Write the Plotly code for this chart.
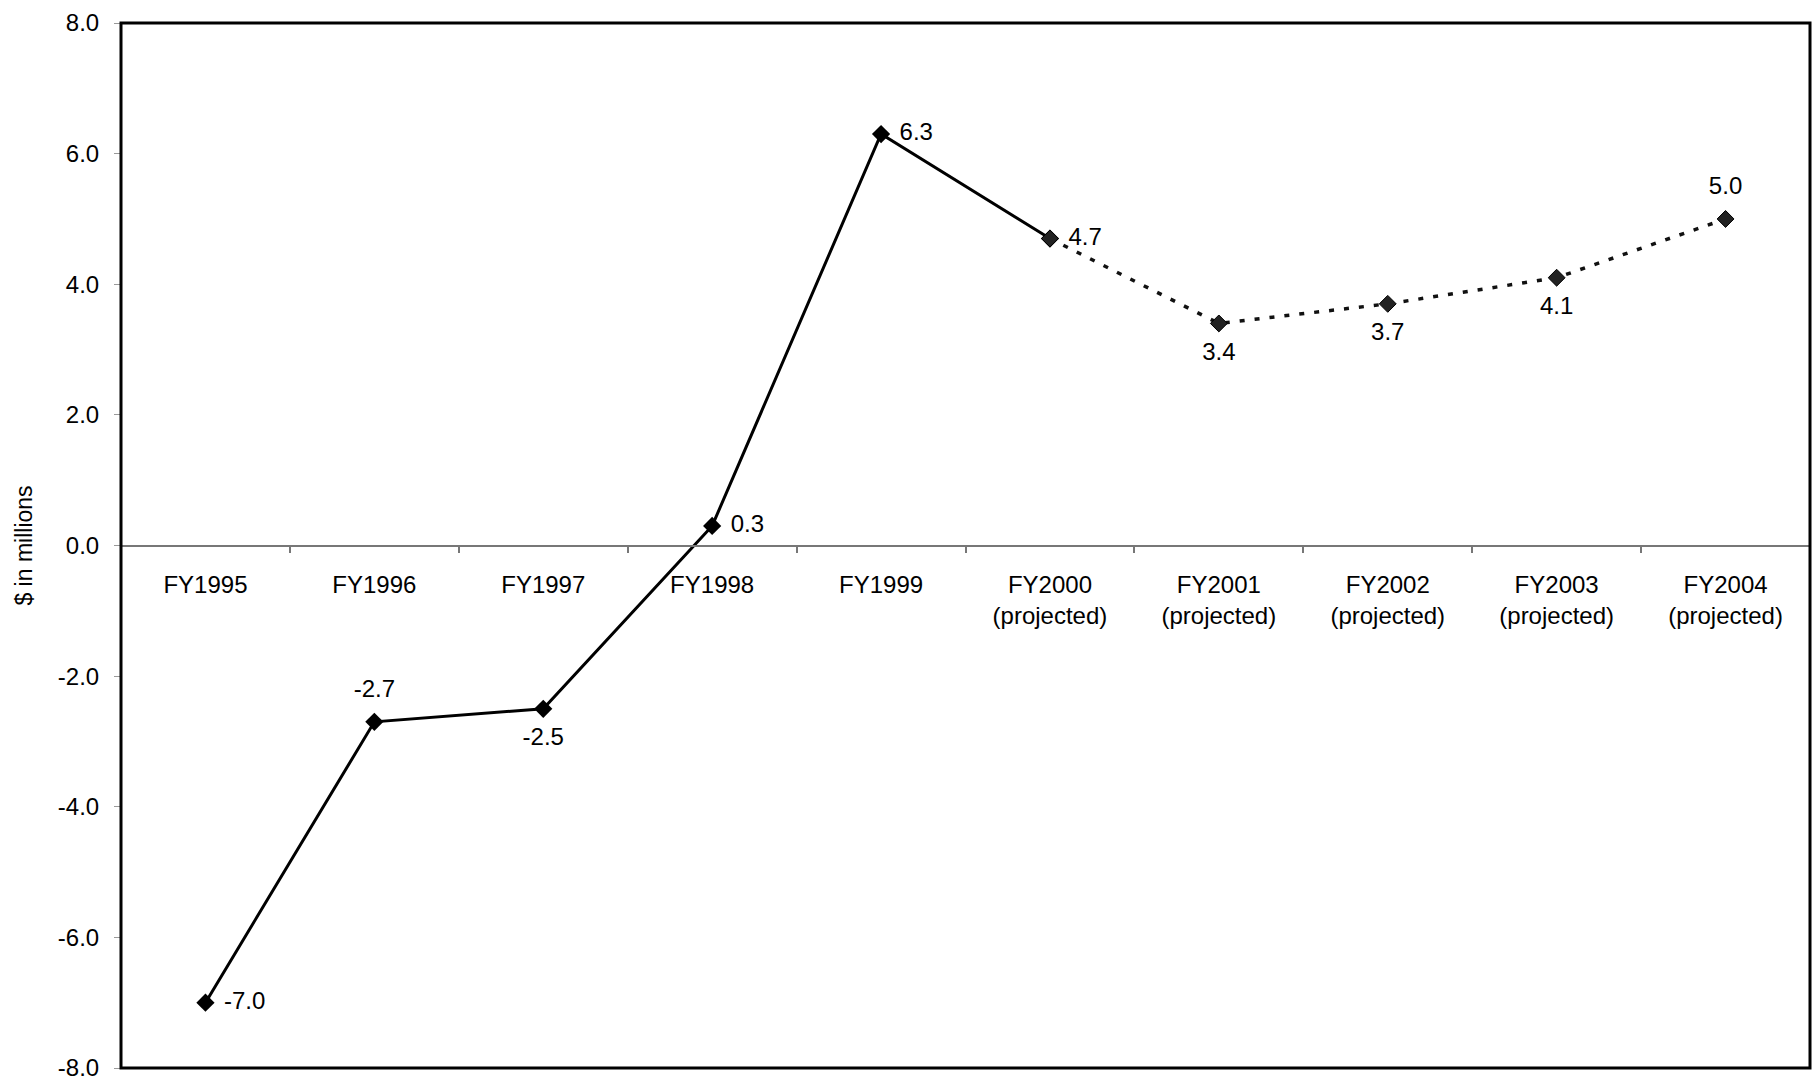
import plotly.graph_objects as go

categories = ["FY1995", "FY1996", "FY1997", "FY1998", "FY1999",
              "FY2000<br>(projected)", "FY2001<br>(projected)", "FY2002<br>(projected)",
              "FY2003<br>(projected)", "FY2004<br>(projected)"]
values = [-7.0, -2.7, -2.5, 0.3, 6.3, 4.7, 3.4, 3.7, 4.1, 5.0]
label_pos = ["middle right", "top center", "bottom center", "middle right", "middle right",
             "middle right", "bottom center", "bottom center", "bottom center", "top center"]
y_ticks = [-8, -6, -4, -2, 0, 2, 4, 6, 8]
y_ticktext = [f"{v:.1f}" for v in y_ticks]

actual_n = 6  # FY1995..FY2000 drawn solid
FONT = "Liberation Sans, Arial, sans-serif"

fig = go.Figure()
fig.add_trace(go.Scatter(
    x=categories[:actual_n], y=values[:actual_n],
    mode="lines+markers",
    line=dict(color="black", width=3),
    marker=dict(symbol="diamond", size=14, color="black"),
    showlegend=False,
))
proj_x = categories[actual_n - 1:]
proj_y = values[actual_n - 1:]
fig.add_trace(go.Scatter(
    x=proj_x, y=proj_y,
    mode="lines+markers",
    line=dict(color="#111111", width=3.5, dash="5px,10px"),
    marker=dict(symbol="diamond", size=13, color="#222222", line=dict(color="black", width=1)),
    showlegend=False,
))
# data labels (invisible larger markers give the labels extra offset)
fig.add_trace(go.Scatter(
    x=categories, y=values,
    mode="markers+text",
    marker=dict(size=28, color="rgba(0,0,0,0)"),
    text=[f"{v:.1f}" for v in values],
    textposition=label_pos,
    textfont=dict(family=FONT, size=24, color="black"),
    cliponaxis=False, showlegend=False, hoverinfo="skip",
))

fig.update_layout(
    width=1820, height=1085,
    margin=dict(l=113, r=18, t=15, b=25),
    paper_bgcolor="white", plot_bgcolor="white",
    font=dict(family=FONT, size=24, color="black"),
    xaxis=dict(
        type="category", categoryorder="array", categoryarray=categories,
        range=[-0.5, len(categories) - 0.5],
        anchor="free", position=0.5, automargin=False,
        showline=True, linecolor="#777777", linewidth=1.5,
        ticks="outside", tickson="boundaries", ticklen=7, tickcolor="#777777", tickwidth=1.5,
        ticklabelstandoff=18,
        showgrid=False, zeroline=False,
        tickfont=dict(family=FONT, size=24, color="black"),
    ),
    yaxis=dict(
        range=[-8, 8], tickvals=y_ticks, ticktext=y_ticktext, automargin=False,
        showgrid=False, zeroline=False, showline=False,
        ticks="outside", ticklen=6, tickcolor="#999999",
        ticklabelstandoff=10, ticklabeloverflow="allow",
        tickfont=dict(family=FONT, size=24, color="black"),
        title=dict(text="$ in millions", font=dict(family=FONT, size=23, color="black"), standoff=18),
    ),
    shapes=[dict(type="rect", xref="paper", yref="paper", x0=0, x1=1, y0=0, y1=1,
                 line=dict(color="black", width=3), fillcolor="rgba(0,0,0,0)", layer="above")],
)

fig.write_html("out.html")
